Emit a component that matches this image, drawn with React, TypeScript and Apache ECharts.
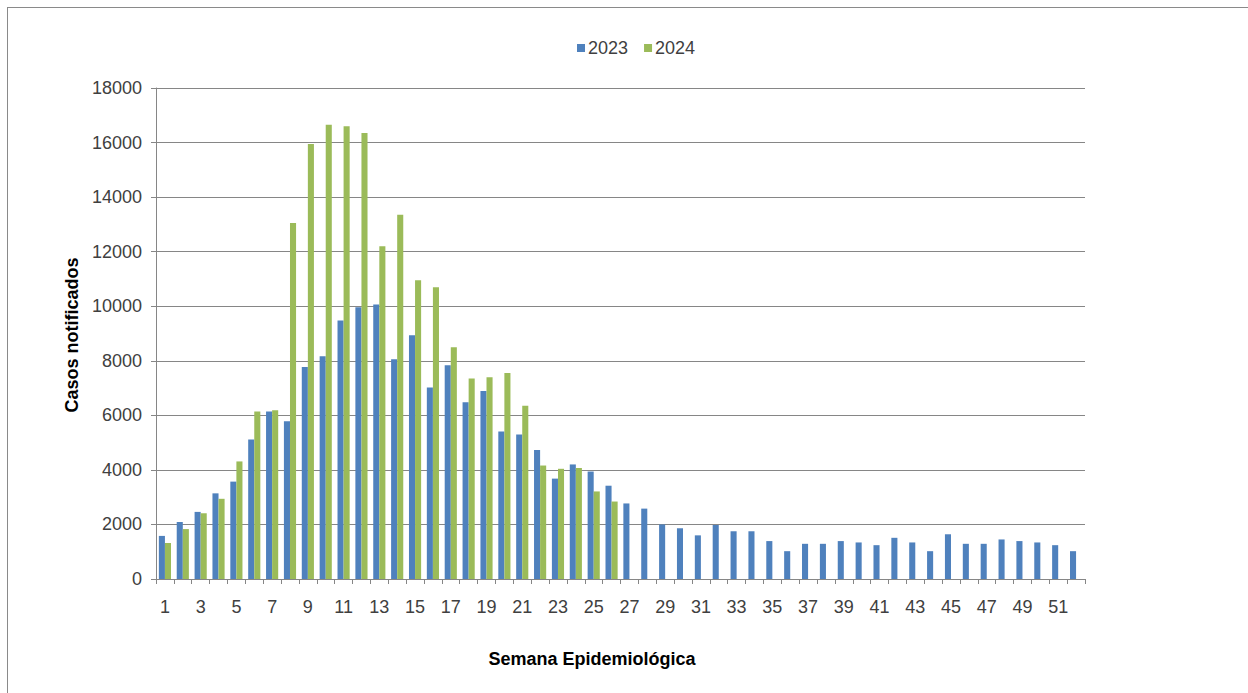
import React, { useEffect, useRef } from "react";
import * as echarts from "echarts";

const weeks: string[] = Array.from({ length: 52 }, (_, i) => String(i + 1));

const cases2023: number[] = [
  1580, 2090, 2460, 3140, 3570, 5110, 6140, 5780, 7770, 8170,
  9480, 9960, 10060, 8060, 8940, 7020, 7840, 6480, 6890, 5410,
  5300, 4730, 3680, 4200, 3940, 3420, 2770, 2580, 2000, 1860,
  1600, 1980, 1750, 1750, 1390, 1020, 1290, 1290, 1390, 1340,
  1240, 1510, 1340, 1020, 1640, 1290, 1290, 1450, 1390, 1340,
  1240, 1020,
];

const cases2024: (number | null)[] = [
  1320, 1830, 2410, 2940, 4310, 6140, 6190, 13050, 15950, 16650,
  16600, 16350, 12200, 13350, 10950, 10700, 8500, 7350, 7400, 7550,
  6350, 4160, 4040, 4070, 3210, 2840,
];

const yTicks = { min: 0, max: 18000, interval: 2000 };

const FONT = "'Liberation Sans', Arial, sans-serif";

export default function App() {
  const ref = useRef<HTMLDivElement>(null);

  useEffect(() => {
    if (!ref.current) return;
    const chart = echarts.init(ref.current, null, { renderer: "svg" });
    chart.setOption({
      animation: false,
      backgroundColor: "#ffffff",
      textStyle: { fontFamily: FONT },
      legend: {
        data: ["2023", "2024"],
        left: 572,
        top: 34,
        itemWidth: 8,
        itemHeight: 8,
        itemGap: 16,
        icon: "rect",
        textStyle: { fontSize: 18, color: "#404040", fontFamily: FONT, padding: [0, 0, 0, -2] },
      },
      grid: { left: 156, right: 163, top: 88, bottom: 114, containLabel: false },
      xAxis: {
        type: "category",
        data: weeks,
        boundaryGap: true,
        axisLine: { show: true, lineStyle: { color: "#868686", width: 1 } },
        axisTick: { show: true, interval: 0, length: 5, lineStyle: { color: "#868686" } },
        axisLabel: { interval: 1, fontSize: 18, color: "#404040", margin: 19, fontFamily: FONT },
        splitLine: { show: false },
      },
      yAxis: {
        type: "value",
        min: yTicks.min,
        max: yTicks.max,
        interval: yTicks.interval,
        axisLine: { show: true, lineStyle: { color: "#868686", width: 1 } },
        axisTick: { show: true, length: 5, lineStyle: { color: "#868686" } },
        axisLabel: {
          fontSize: 18,
          color: "#404040",
          margin: 14,
          fontFamily: FONT,
          formatter: (v: number) => String(v),
        },
        splitLine: { show: true, lineStyle: { color: "#868686", width: 1 } },
      },
      series: [
        {
          name: "2023",
          type: "bar",
          data: cases2023,
          itemStyle: { color: "#4F81BD" },
          barGap: "0%",
          barCategoryGap: "32%",
        },
        {
          name: "2024",
          type: "bar",
          data: cases2024,
          itemStyle: { color: "#9BBB59" },
          barGap: "0%",
          barCategoryGap: "32%",
        },
      ],
      graphic: [
        { type: "line", shape: { x1: 7, y1: 7.5, x2: 1248, y2: 7.5 }, style: { stroke: "#8a8a8a", lineWidth: 1 } },
        { type: "line", shape: { x1: 7.5, y1: 7, x2: 7.5, y2: 693 }, style: { stroke: "#8a8a8a", lineWidth: 1 } },
        {
          type: "text",
          x: 592,
          y: 659,
          style: {
            text: "Semana Epidemiológica",
            fontSize: 18,
            fontWeight: "bold",
            fill: "#000000",
            fontFamily: FONT,
            align: "center",
            verticalAlign: "middle",
          },
        },
        {
          type: "text",
          x: 72,
          y: 335,
          rotation: Math.PI / 2,
          style: {
            text: "Casos notificados",
            fontSize: 18,
            fontWeight: "bold",
            fill: "#000000",
            fontFamily: FONT,
            align: "center",
            verticalAlign: "middle",
          },
        },
      ],
    });
    return () => chart.dispose();
  }, []);

  return (
    <div
      ref={ref}
      style={{ position: "fixed", left: 0, top: 0, width: 1248, height: 693 }}
    />
  );
}
